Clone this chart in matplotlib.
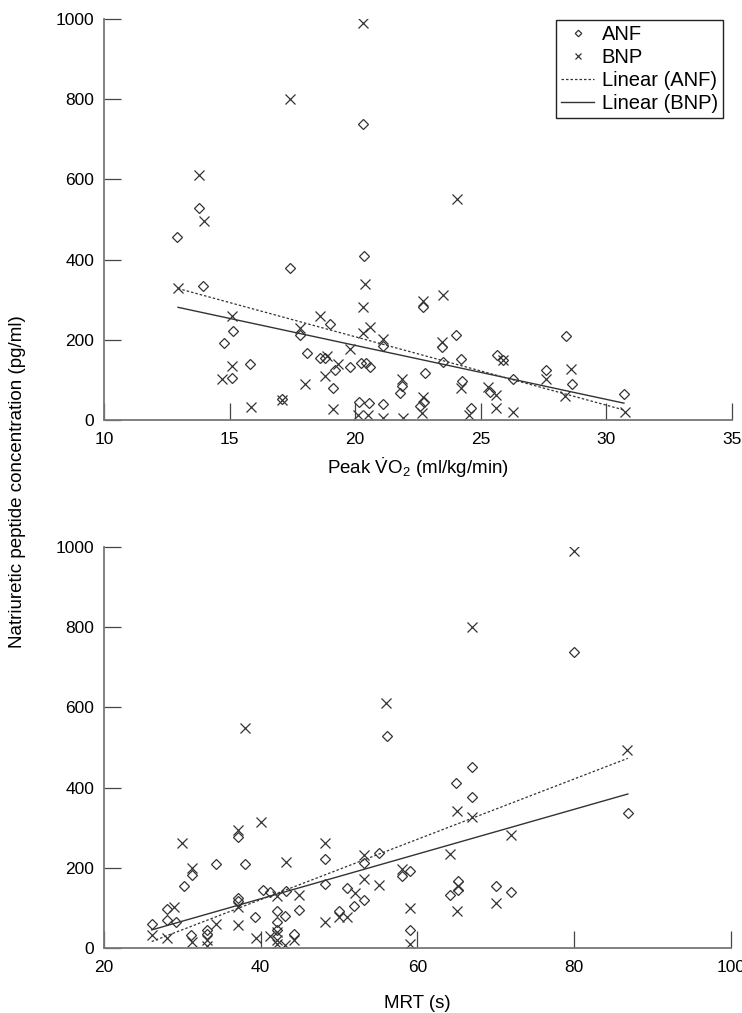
import matplotlib
matplotlib.use("Agg")
import matplotlib.pyplot as plt

plt.rcParams['font.family'] = ['Liberation Sans', 'DejaVu Sans']
plt.rcParams['mathtext.fontset'] = 'custom'
plt.rcParams['mathtext.rm'] = 'Liberation Sans'
plt.rcParams['mathtext.it'] = 'Liberation Sans:italic'

# peak VO2 panel
vo2_anf_x = [12.9, 13.8, 13.95, 14.8, 15.15, 15.1, 15.8, 17.1, 17.4, 17.8, 18.1, 18.6, 18.8, 19.0, 19.1, 19.2,
             19.8, 20.15, 20.25, 20.3, 20.35, 20.45, 20.55, 20.6, 21.1, 21.1, 21.8, 21.85, 22.6, 22.75, 22.7, 22.8,
             23.45, 23.5, 24.0, 24.2, 24.25, 24.6, 25.35, 25.65, 25.9, 26.3, 27.6, 28.4, 28.65, 30.7]
vo2_anf_y = [456, 528, 335, 193, 222, 105, 139, 52, 380, 212, 166, 155, 155, 239, 81, 125,
             133, 46, 143, 737, 410, 141, 43, 133, 185, 39, 67, 86, 35, 46, 281, 118,
             183, 145, 212, 152, 96, 29, 69, 162, 150, 102, 125, 210, 91, 64]
vo2_bnp_x = [12.95, 13.8, 14.0, 14.7, 15.1, 15.1, 15.85, 17.1, 17.4, 17.8, 18.0, 18.6, 18.8, 18.9, 19.1, 19.3,
             19.8, 20.1, 20.3, 20.3, 20.3, 20.4, 20.5, 20.6, 21.1, 21.1, 21.85, 21.9, 22.65, 22.7, 22.7, 23.45,
             23.5, 24.05, 24.2, 24.55, 25.3, 25.6, 25.6, 25.9, 26.3, 27.6, 28.35, 28.6, 30.75]
vo2_bnp_y = [330, 610, 497, 101, 259, 135, 33, 50, 800, 229, 91, 260, 110, 160, 27, 140,
             176, 12, 990, 282, 216, 340, 12, 231, 201, 4, 102, 4, 18, 58, 297, 195,
             311, 551, 79, 12, 83, 62, 29, 150, 21, 101, 60, 127, 21]
vo2_fit_x = [12.95, 30.7]
vo2_fit_anf = [328, 25]
vo2_fit_bnp = [281, 42]

# MRT panel
mrt_anf_x = [26.15, 28.1, 28.1, 29.2, 30.2, 31.2, 31.1, 33.2, 33.2, 34.3, 37.05, 37.05, 37.05, 38.0, 39.3, 40.3,
             41.2, 42.1, 42.1, 42.1, 43.2, 43.1, 44.2, 44.95, 48.15, 48.15, 49.95, 51.0, 51.95, 53.15, 53.15, 55.1,
             56.1, 58.1, 59.1, 59.1, 64.1, 64.9, 65.2, 65.2, 67.0, 66.95, 70.0, 72.0, 79.95, 86.9]
mrt_anf_y = [59, 97, 70, 64, 154, 182, 32, 44, 36, 209, 278, 124, 118, 209, 76, 145,
             139, 93, 65, 45, 141, 80, 34, 95, 221, 160, 91, 149, 105, 211, 120, 238,
             529, 180, 191, 45, 133, 411, 166, 144, 452, 377, 154, 139, 737, 336]
mrt_bnp_x = [26.1, 28.0, 29.0, 30.0, 31.2, 31.2, 33.2, 33.2, 34.3, 37.05, 37.05, 37.05, 37.98, 39.4, 40.1, 41.2,
             42.1, 42.1, 42.1, 42.1, 43.1, 43.2, 44.2, 44.95, 48.15, 48.15, 49.95, 51.05, 52.1, 53.15, 53.15, 55.1,
             56.0, 58.1, 59.1, 59.1, 64.1, 65.0, 65.0, 65.2, 66.95, 67.0, 70.0, 72.0, 79.95, 86.8]
mrt_bnp_y = [32, 24, 101, 261, 199, 14, 21, 4, 59, 294, 103, 57, 549, 26, 315, 29,
             130, 40, 19, 9, 7, 214, 21, 133, 261, 65, 76, 76, 137, 233, 172, 158,
             610, 197, 99, 9, 235, 342, 91, 154, 327, 801, 113, 282, 990, 494]
mrt_fit_x = [26.1, 86.85]
mrt_fit_anf = [16, 473]
mrt_fit_bnp = [45, 384]

ink = '#333333'
axis_grey = '#777777'


def style_axes(ax, xlim, xticks, xlabels):
  ax.set_xlim(xlim)
  ax.set_ylim(0, 1000)
  ax.set_xticks(xticks)
  ax.set_xticklabels(xlabels)
  ax.set_yticks([0, 200, 400, 600, 800, 1000])
  for side in ['top', 'right']:
    ax.spines[side].set_visible(False)
  for side in ['left', 'bottom']:
    ax.spines[side].set_color(axis_grey)
    ax.spines[side].set_linewidth(1.3)
  ax.tick_params(axis='both', direction='in', length=12, width=0.9, color='#444444', labelsize=12.5)
  ax.tick_params(axis='x', pad=9)
  ax.tick_params(axis='y', pad=7)


def draw_panel(ax, ax_x, ay, bx, by, fx, fa, fb):
  ax.plot(ax_x, ay, linestyle='none', marker='D', ms=5.5, mfc='none', mec=ink, mew=0.9, label='ANF')
  ax.plot(bx, by, linestyle='none', marker='x', ms=6.5, mec=ink, mew=0.9, label='BNP')
  ax.plot(fx, fa, color=ink, lw=0.9, dashes=(2, 1.6), label='Linear (ANF)')
  ax.plot(fx, fb, color=ink, lw=1.0, label='Linear (BNP)')


fig = plt.figure(figsize=(7.42, 10.13), dpi=100)
ax1 = fig.add_axes([0.140, 0.5854, 0.8465, 0.3958])
ax2 = fig.add_axes([0.140, 0.0642, 0.8450, 0.3958])

draw_panel(ax1, vo2_anf_x, vo2_anf_y, vo2_bnp_x, vo2_bnp_y, vo2_fit_x, vo2_fit_anf, vo2_fit_bnp)
style_axes(ax1, (10, 35), [10, 15, 20, 25, 30, 35], ['10', '15', '20', '25', '30', '35'])
ax1.set_xlabel(r'Peak $\dot{\mathrm{V}}\mathrm{O}_2$ (ml/kg/min)', fontsize=13.5, labelpad=6)

leg = ax1.legend(loc='upper right', bbox_to_anchor=(0.992, 1.008), fontsize=14.5, frameon=True,
                 fancybox=False, edgecolor='#222222', framealpha=1, borderpad=0.25,
                 labelspacing=0.2, handlelength=1.6, handletextpad=0.4, borderaxespad=0.2,
                 markerscale=0.6)
leg.get_frame().set_linewidth(1.0)

draw_panel(ax2, mrt_anf_x, mrt_anf_y, mrt_bnp_x, mrt_bnp_y, mrt_fit_x, mrt_fit_anf, mrt_fit_bnp)
style_axes(ax2, (20, 100), [20, 40, 60, 80, 100], ['20', '40', '60', '80', '100'])
ax2.set_xlabel('MRT (s)', fontsize=13.5, labelpad=14)

fig.text(0.024, 0.525, 'Natriuretic peptide concentration (pg/ml)', rotation=90,
         ha='center', va='center', fontsize=13.5)

fig.savefig('out.png', dpi=100)
